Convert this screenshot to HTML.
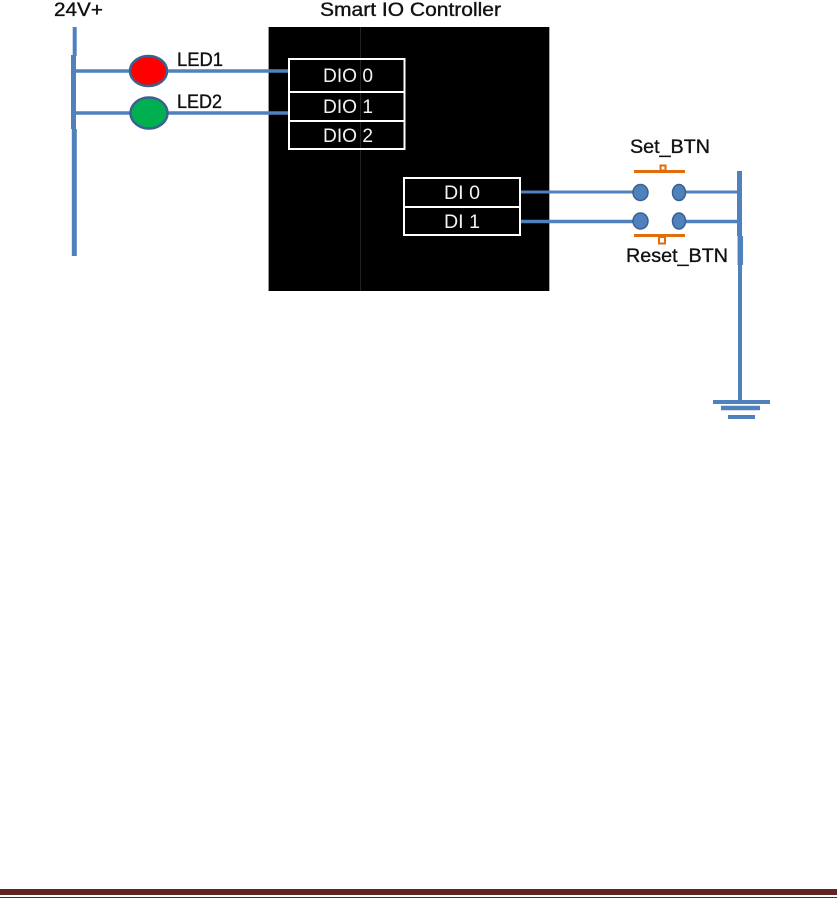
<!DOCTYPE html>
<html><head><meta charset="utf-8">
<style>
html,body{margin:0;padding:0;background:#fff;width:837px;height:898px;overflow:hidden}
svg{display:block}
text{font-family:"Liberation Sans",sans-serif}
</style></head>
<body>
<svg width="837" height="898" viewBox="0 0 837 898" xmlns="http://www.w3.org/2000/svg">
<rect x="268" y="27" width="281.500" height="264" fill="#000"/>
<rect x="268" y="27" width="1" height="264" fill="#999"/>
<rect x="549" y="27" width="1" height="264" fill="#aaa"/>
<line x1="360.500" y1="27" x2="360.500" y2="291" stroke="#222" stroke-width="1"/>

<g stroke="#4f81bd" fill="none">
<line x1="74.700" y1="27" x2="74.700" y2="56" stroke-width="4"/>
<line x1="73.500" y1="55" x2="73.500" y2="129" stroke-width="5"/>
<line x1="74.300" y1="129" x2="74.300" y2="256" stroke-width="5"/>
<line x1="74" y1="71" x2="288" y2="71" stroke-width="3.500"/>
<line x1="74" y1="113" x2="288" y2="113" stroke-width="3.500"/>
<line x1="520" y1="192" x2="640" y2="192" stroke-width="3"/>
<line x1="520" y1="221.500" x2="640" y2="221.500" stroke-width="3.500"/>
<line x1="679" y1="192" x2="739" y2="192" stroke-width="3"/>
<line x1="679" y1="221.500" x2="739" y2="221.500" stroke-width="3.500"/>
<line x1="739.500" y1="171" x2="739.500" y2="236" stroke-width="5"/>
<line x1="740.300" y1="236" x2="740.300" y2="265" stroke-width="5.500"/>
<line x1="740" y1="265" x2="740" y2="400" stroke-width="4"/>
<line x1="713" y1="402" x2="770" y2="402" stroke-width="4"/>
<line x1="721" y1="408" x2="760" y2="408" stroke-width="4.500"/>
<line x1="728" y1="417" x2="755" y2="417" stroke-width="4"/>
</g>

<ellipse cx="148.500" cy="71" rx="18.500" ry="15" fill="#ff0000" stroke="#3a6190" stroke-width="2.500"/>
<ellipse cx="149" cy="113" rx="18.500" ry="15.500" fill="#00b050" stroke="#3a6190" stroke-width="2.500"/>

<g fill="#4f81bd" stroke="#3a6190" stroke-width="1.500">
<ellipse cx="640.500" cy="192.500" rx="7.500" ry="8"/>
<ellipse cx="679" cy="192.500" rx="6.500" ry="8"/>
<ellipse cx="640.500" cy="221" rx="7.500" ry="8"/>
<ellipse cx="679" cy="221" rx="6.500" ry="8"/>
</g>

<g stroke="#e36c0a" fill="none">
<line x1="634" y1="171.500" x2="685" y2="171.500" stroke-width="3"/>
<line x1="634" y1="235.500" x2="685" y2="235.500" stroke-width="3"/>
<rect x="660.500" y="165.500" width="5" height="5" stroke-width="2"/>
<rect x="659" y="237" width="6" height="6.500" stroke-width="2"/>
</g>

<g stroke="#fff" stroke-width="2" fill="none">
<rect x="289" y="59" width="115.500" height="90"/>
<line x1="289" y1="92" x2="404.500" y2="92"/>
<line x1="289" y1="121" x2="404.500" y2="121"/>
<rect x="404" y="178" width="116" height="57"/>
<line x1="404" y1="207" x2="520" y2="207"/>
</g>

<g fill="#f2f2f2" font-size="19">
<text x="323" y="82" textLength="50" lengthAdjust="spacingAndGlyphs">DIO 0</text>
<text x="323" y="113" textLength="50" lengthAdjust="spacingAndGlyphs">DIO 1</text>
<text x="323" y="142" textLength="50" lengthAdjust="spacingAndGlyphs">DIO 2</text>
<text x="444" y="199" textLength="36" lengthAdjust="spacingAndGlyphs">DI 0</text>
<text x="444" y="228" textLength="36" lengthAdjust="spacingAndGlyphs">DI 1</text>
</g>

<g fill="#111" font-size="19" stroke="#111" stroke-width="0.350">
<text x="54" y="16" textLength="49" lengthAdjust="spacingAndGlyphs">24V+</text>
<text x="320" y="16" textLength="181" lengthAdjust="spacingAndGlyphs">Smart IO Controller</text>
<text x="177" y="66" textLength="46" lengthAdjust="spacingAndGlyphs">LED1</text>
<text x="177" y="108" textLength="45" lengthAdjust="spacingAndGlyphs">LED2</text>
<text x="630" y="153" textLength="80" lengthAdjust="spacingAndGlyphs">Set_BTN</text>
<text x="626" y="262" textLength="102" lengthAdjust="spacingAndGlyphs">Reset_BTN</text>
</g>

<rect x="0" y="889" width="837" height="6" fill="#622423"/>
<rect x="0" y="897" width="837" height="1" fill="#622423"/>
</svg>
</body></html>
